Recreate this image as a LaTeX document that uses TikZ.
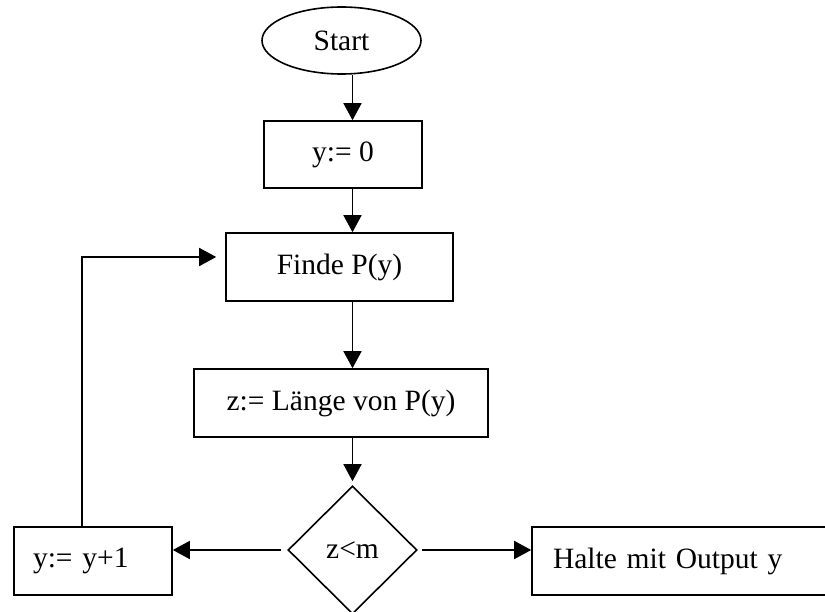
\documentclass[tikz,border=0pt]{standalone}
\usepackage{fontspec}
\setmainfont{Liberation Serif}
\usetikzlibrary{shapes.geometric,arrows.meta}

\begin{document}
\begin{tikzpicture}[x=1pt,y=-1pt,line width=1.6pt,-{Triangle[length=17pt,width=18pt]},
  box/.style={draw,rectangle,minimum height=68pt,inner sep=0pt},
  every node/.style={font=\fontsize{29.5}{35}\selectfont}]
  \useasboundingbox (0,0) rectangle (825,612);
  \node[draw,ellipse,minimum width=159pt,minimum height=67pt,inner sep=0pt] (start) at (341.5,40.5) {Start};
  \node[box,minimum width=158pt,minimum height=67pt] (init) at (343,154.5) {y:= 0};
  \node[box,minimum width=227pt] (finde) at (339.5,267) {Finde P(y)};
  \node[box,minimum width=294pt] (laenge) at (341,403) {z:= Länge von P(y)};
  \node[draw,diamond,minimum width=129pt,minimum height=128pt,inner sep=0pt] (cond) at (352.5,550) {z<m};
  \node[box,text width=120pt,inner xsep=19pt,align=left] (inc) at (93,561) {y:= y+1};
  \node[box,text width=266pt,inner xsep=21pt,align=left] (halt) at (686,561) {Halte mit Output y};
  \coordinate (loop) at (82,257);
  \path (start.south -| cond) edge (init.north -| cond);
  \path (init.south -| cond) edge (finde.north -| cond);
  \path (finde.south -| cond) edge (laenge.north -| cond);
  \path (laenge.south -| cond) edge ([yshift=4pt]cond.north);
  \path ([xshift=-6pt]cond.west) edge (inc.east |- cond.west);
  \path ([xshift=4pt]cond.east) edge (halt.west |- cond.east);
  \draw (inc.north -| loop) -- (loop) -- ([xshift=-9pt]finde.west |- loop);
\end{tikzpicture}
\end{document}
